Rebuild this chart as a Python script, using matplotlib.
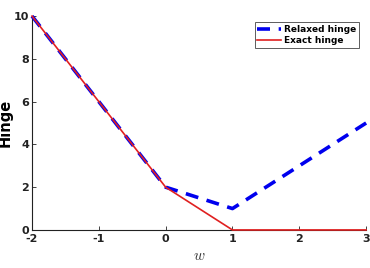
import matplotlib
matplotlib.use("Agg")
import matplotlib.pyplot as plt

plt.rcParams["mathtext.fontset"] = "cm"

w = [-2, 0, 1, 3]
relaxed = [10, 2, 1, 5]
exact = [10, 2, 0, 0]
xticks = [-2, -1, 0, 1, 2, 3]
yticks = [0, 2, 4, 6, 8, 10]

fig = plt.figure(figsize=(3.7, 2.68), dpi=100)
ax = fig.add_axes([0.0865, 0.142, 0.903, 0.798])
ax.plot(w, relaxed, color="#0000ee", lw=2.6, ls=(0, (3.6, 2.4)),
        label="Relaxed hinge", clip_on=False, zorder=3)
ax.plot(w, exact, color="#e02020", lw=1.2, label="Exact hinge",
        clip_on=False, zorder=4)
ax.set_xlim(-2, 3)
ax.set_ylim(0, 10)
ax.set_xticks(xticks)
ax.set_yticks(yticks)
ax.set_xticklabels([str(t) for t in xticks], fontweight="bold", fontsize=8)
ax.set_yticklabels([str(t) for t in yticks], fontweight="bold", fontsize=8)
ax.tick_params(direction="in", length=3, width=0.6, colors="#222222")
ax.tick_params(axis="x", pad=3)
ax.tick_params(axis="y", pad=2)
for s in ["top", "right"]:
    ax.spines[s].set_visible(False)
for s in ["left", "bottom"]:
    ax.spines[s].set_linewidth(0.8)
    ax.spines[s].set_color("#222222")
ax.set_xlabel("$w$", fontsize=11, color="#333333", labelpad=3)
ax.set_ylabel("Hinge", fontsize=10.5, fontweight="bold", labelpad=1)
leg = ax.legend(loc="upper right", bbox_to_anchor=(0.98, 0.97),
                prop={"weight": "bold", "size": 6.5}, frameon=True, fancybox=False,
                edgecolor="#333333", handlelength=2.6, handletextpad=0.4,
                borderpad=0.3, labelspacing=0.2, borderaxespad=0)
leg.get_frame().set_linewidth(0.7)
fig.savefig("out.png", dpi=100)
